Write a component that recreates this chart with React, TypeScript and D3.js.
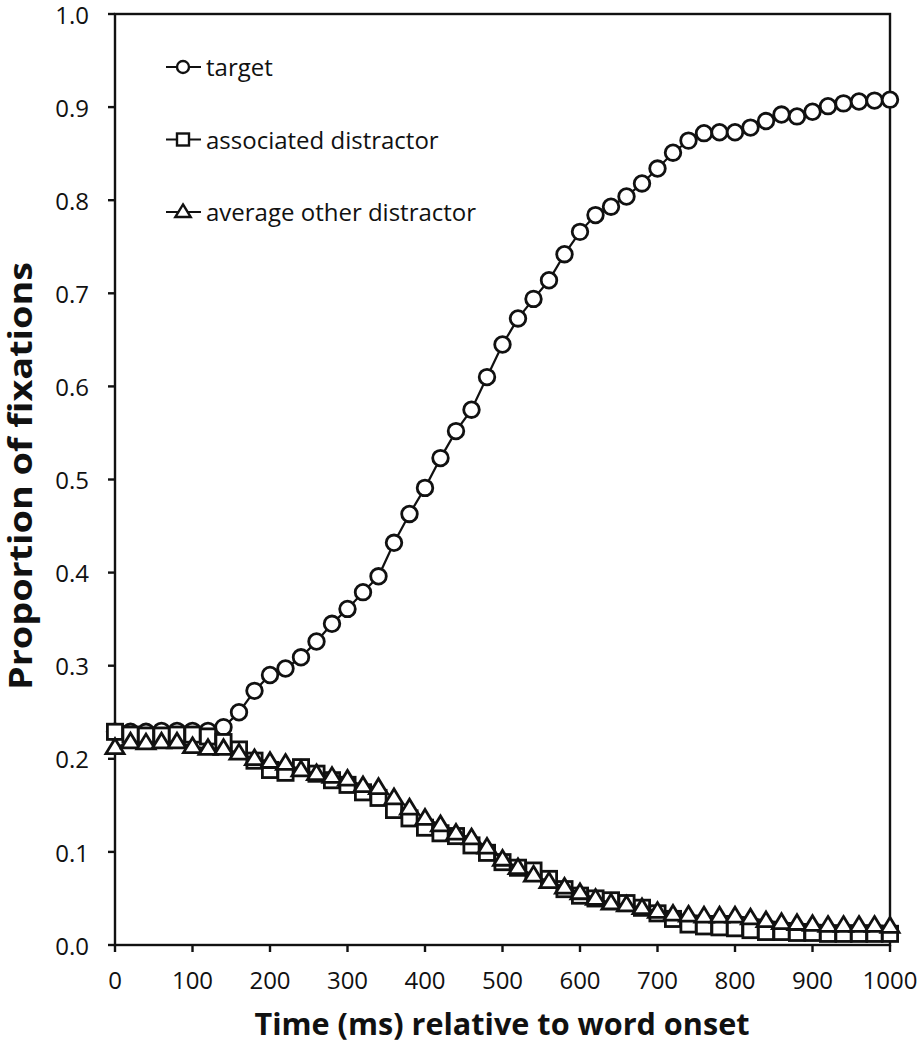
import React from "react";
import * as d3 from "d3";

const times: number[] = d3.range(0, 1001, 20);

const targetValues: number[] = [
  0.229, 0.229, 0.229, 0.230, 0.230, 0.230, 0.230, 0.234, 0.250, 0.273,
  0.290, 0.297, 0.309, 0.326, 0.345, 0.361, 0.379, 0.396, 0.432, 0.463,
  0.491, 0.523, 0.552, 0.575, 0.610, 0.645, 0.673, 0.694, 0.714, 0.742,
  0.766, 0.784, 0.793, 0.804, 0.818, 0.834, 0.851, 0.864, 0.872, 0.873,
  0.873, 0.878, 0.885, 0.892, 0.890, 0.895, 0.901, 0.904, 0.906, 0.907,
  0.908,
];

const associatedValues: number[] = [
  0.229, 0.226, 0.225, 0.225, 0.226, 0.226, 0.224, 0.218, 0.210, 0.198,
  0.188, 0.185, 0.191, 0.184, 0.177, 0.172, 0.164, 0.158, 0.145, 0.136,
  0.126, 0.120, 0.117, 0.107, 0.099, 0.089, 0.083, 0.080, 0.071, 0.060,
  0.053, 0.050, 0.048, 0.045, 0.040, 0.034, 0.028, 0.022, 0.020, 0.019,
  0.018, 0.016, 0.014, 0.014, 0.013, 0.013, 0.012, 0.012, 0.012, 0.012,
  0.012,
];

const otherValues: number[] = [
  0.212, 0.218, 0.217, 0.218, 0.218, 0.213, 0.211, 0.211, 0.206, 0.200,
  0.197, 0.195, 0.188, 0.184, 0.181, 0.178, 0.171, 0.169, 0.158, 0.147,
  0.136, 0.129, 0.120, 0.115, 0.105, 0.092, 0.083, 0.075, 0.068, 0.062,
  0.056, 0.050, 0.045, 0.043, 0.040, 0.036, 0.033, 0.032, 0.031, 0.031,
  0.031, 0.029, 0.026, 0.024, 0.023, 0.022, 0.021, 0.021, 0.021, 0.021,
  0.020,
];

const legendLabels: string[] = ["target", "associated distractor", "average other distractor"];
const xTicks: number[] = d3.range(0, 1001, 100);
const yTicks: number[] = d3.range(0, 1.0001, 0.1);

const W = 922;
const H = 1050;
const M = { left: 115, right: 32, top: 14, bottom: 105 };

const FONT = "'Open Sans', 'Noto Sans', sans-serif";

function Marker({ kind, x, y, s, sw }: { kind: string; x: number; y: number; s: number; sw: number }) {
  if (kind === "circle") {
    return <circle cx={x} cy={y} r={s} fill="white" stroke="#111" strokeWidth={sw} />;
  }
  if (kind === "square") {
    return (
      <rect x={x - s} y={y - s} width={2 * s} height={2 * s} fill="white" stroke="#111" strokeWidth={sw} />
    );
  }
  const h = s * 1.8;
  const pts = [
    [x, y - h * 0.6],
    [x + s * 1.1, y + h * 0.4],
    [x - s * 1.1, y + h * 0.4],
  ];
  return <polygon points={pts.map((p) => p.join(",")).join(" ")} fill="white" stroke="#111" strokeWidth={sw} strokeLinejoin="miter" />;
}

export default function App() {
  const x = d3.scaleLinear().domain([0, 1000]).range([M.left, W - M.right]);
  const y = d3.scaleLinear().domain([0, 1]).range([H - M.bottom, M.top]);

  const series = [
    { name: legendLabels[0], values: targetValues, kind: "circle", size: 7.8 },
    { name: legendLabels[1], values: associatedValues, kind: "square", size: 7.6 },
    { name: legendLabels[2], values: otherValues, kind: "triangle", size: 8.2 },
  ];

  const line = d3
    .line<number>()
    .x((_, i) => x(times[i]))
    .y((d) => y(d));

  const x0 = x(0), x1 = x(1000), y0 = y(0), y1 = y(1);

  return (
    <svg width={W} height={H} style={{ display: "block", position: "absolute", left: 0, top: 0, background: "white" }}>
      <rect x={0} y={0} width={W} height={H} fill="white" />
      {/* frame */}
      <rect x={x0} y={y1} width={x1 - x0} height={y0 - y1} fill="none" stroke="#111" strokeWidth={2.4} />

      {/* y ticks */}
      {yTicks.map((t) => (
        <g key={"y" + t}>
          <line x1={x0 - 7} x2={x0} y1={y(t)} y2={y(t)} stroke="#111" strokeWidth={2.4} />
          <text x={x0 - 26} y={y(t)} dy="0.4em" textAnchor="end" fontFamily={FONT} fontSize={24} fill="#111">
            {d3.format(".1f")(t)}
          </text>
        </g>
      ))}

      {/* x ticks */}
      {xTicks.map((t) => (
        <g key={"x" + t}>
          <line x1={x(t)} x2={x(t)} y1={y0} y2={y0 + 7} stroke="#111" strokeWidth={2.4} />
          <text x={x(t)} y={y0 + 44} textAnchor="middle" fontFamily={FONT} fontSize={24} fill="#111">
            {t}
          </text>
        </g>
      ))}

      {/* axis titles */}
      <text x={502} y={1035} textAnchor="middle" fontFamily={FONT} fontWeight="bold" fontSize={30} fill="#111" textLength={495} lengthAdjust="spacingAndGlyphs">
        Time (ms) relative to word onset
      </text>
      <text
        transform={`translate(32, 476) rotate(-90)`}
        textAnchor="middle"
        fontFamily={FONT}
        fontWeight="bold"
        fontSize={32}
        fill="#111"
        textLength={428}
        lengthAdjust="spacingAndGlyphs"
      >
        Proportion of fixations
      </text>

      {/* series */}
      {series.map((s) => (
        <g key={s.name}>
          <path d={line(s.values) || ""} fill="none" stroke="#111" strokeWidth={2.2} />
          {s.values.map((v, i) => (
            <Marker key={i} kind={s.kind} x={x(times[i])} y={y(v)} s={s.size} sw={2.8} />
          ))}
        </g>
      ))}

      {/* legend */}
      {series.map((s, i) => {
        const ly = 67 + i * 72.5;
        return (
          <g key={"lg" + i}>
            <line x1={166} x2={201} y1={ly} y2={ly} stroke="#111" strokeWidth={2.2} />
            <Marker kind={s.kind} x={183} y={ly} s={s.kind === "triangle" ? 7 : 6} sw={2.4} />
            <text x={206} y={ly} dy="0.38em" fontFamily={FONT} fontSize={24} fill="#111">
              {s.name}
            </text>
          </g>
        );
      })}
    </svg>
  );
}
